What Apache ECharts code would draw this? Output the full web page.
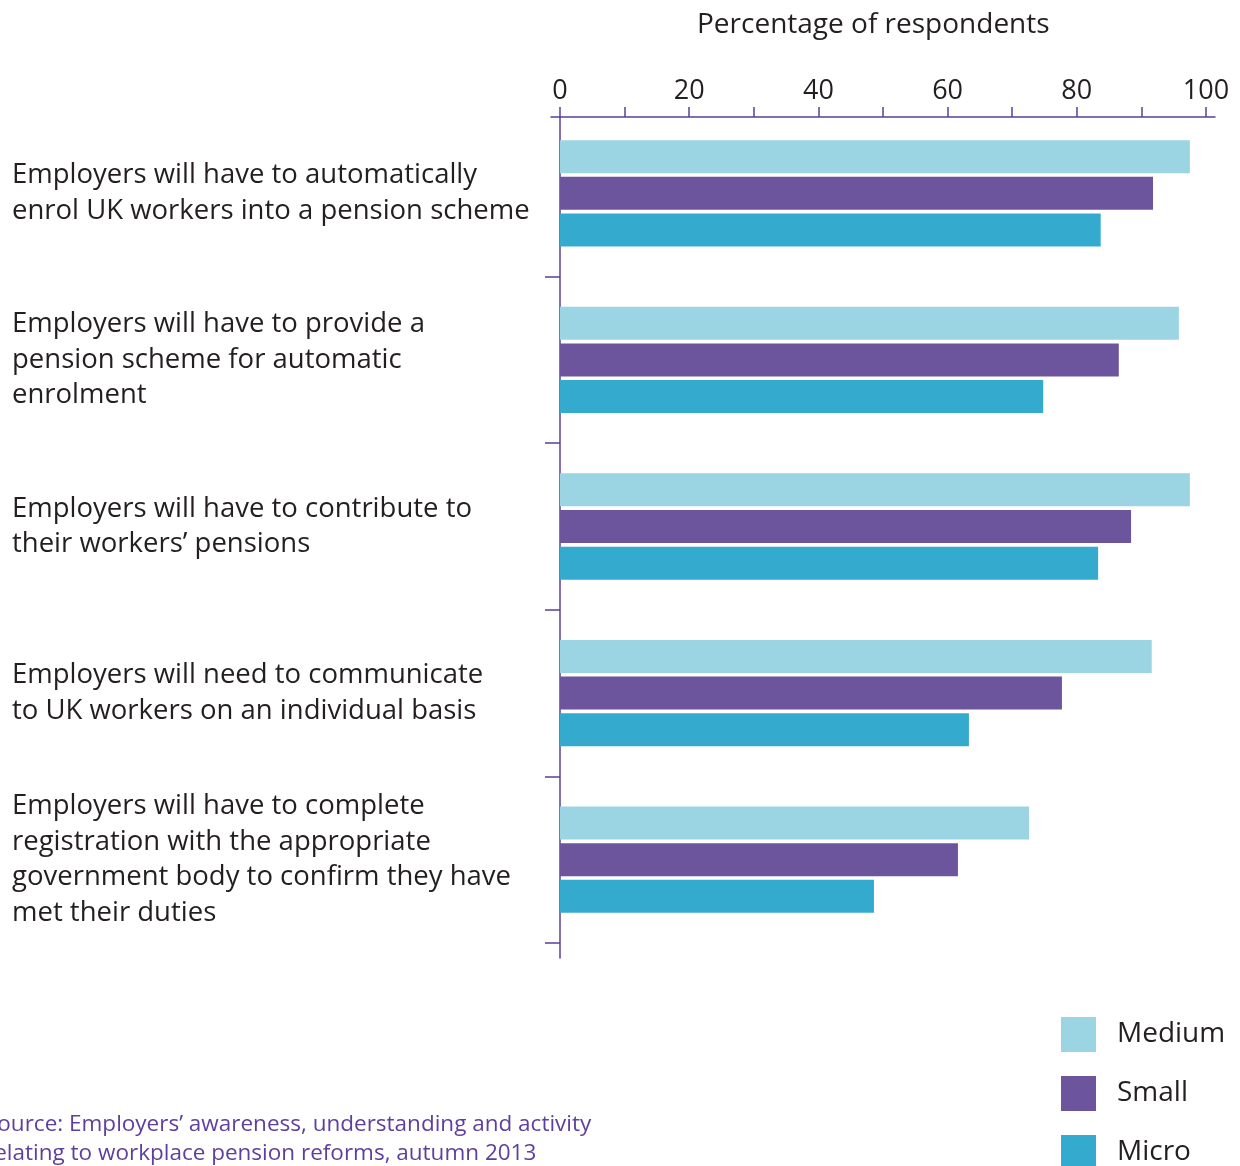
<!DOCTYPE html>
<html>
<head>
<meta charset="utf-8">
<script src="https://cdn.jsdelivr.net/npm/echarts@6/dist/echarts.min.js"></script>
<style>
  html, body { margin: 0; padding: 0; background: #ffffff; }
  #chart { width: 1240px; height: 1166px; }
</style>
</head>
<body>
<div id="chart"></div>
<script>
// Statements about the workplace pension reforms (top to bottom)
const categories = [
  'Employers will have to automatically\nenrol UK workers into a pension scheme',
  'Employers will have to provide a\npension scheme for automatic\nenrolment',
  'Employers will have to contribute to\ntheir workers\u2019 pensions',
  'Employers will need to communicate\nto UK workers on an individual basis',
  'Employers will have to complete\nregistration with the appropriate\ngovernment body to confirm they have\nmet their duties'
];

// Percentage of respondents aware of each duty, by employer size
const medium = [97.5, 95.8, 97.5, 91.6, 72.6];
const small  = [91.8, 86.5, 88.4, 77.7, 61.6];
const micro  = [83.7, 74.8, 83.3, 63.3, 48.6];

const seriesNames = ['Medium', 'Small', 'Micro'];
const axisTicks = [0, 20, 40, 60, 80, 100];

const FONT = '"Open Sans", Lato, sans-serif';
const AXIS_COLOR = '#5b3f98';
const TEXT_COLOR = '#231f20';

const chart = echarts.init(document.getElementById('chart'), null, { renderer: 'canvas' });

chart.setOption({
  backgroundColor: '#ffffff',
  animation: false,
  color: ['#9bd4e3', '#6c559d', '#34abce'],
  title: [
    {
      text: 'Percentage of respondents',
      left: 697,
      top: 11,
      padding: 0,
      textStyle: { fontFamily: FONT, fontSize: 28, fontWeight: 'normal', color: TEXT_COLOR }
    },
    {
      text: 'Source: Employers\u2019 awareness, understanding and activity\nrelating to workplace pension reforms, autumn 2013',
      left: -15,
      top: 1110,
      padding: 0,
      textStyle: { fontFamily: FONT, fontSize: 22.5, fontWeight: 'normal', color: '#5f3f9e', lineHeight: 29 }
    }
  ],
  legend: {
    orient: 'vertical',
    left: 1061,
    top: 1017,
    height: 220,
    padding: 0,
    itemWidth: 35,
    itemHeight: 35,
    itemGap: 24,
    icon: 'rect',
    data: seriesNames,
    textStyle: { fontFamily: FONT, fontSize: 28, color: TEXT_COLOR, padding: [4, 0, 0, 16] }
  },
  grid: [
    { left: 560, width: 646, top: 110, height: 833, containLabel: false },
    // frame for the two long axis lines
    { left: 551, width: 664, top: 117, height: 841, containLabel: false }
  ],
  xAxis: [
    {
      type: 'value',
      gridIndex: 0,
      position: 'top',
      offset: -7,
      min: 0,
      max: 100,
      interval: 10,
      axisLine: { show: false },
      axisTick: { show: true, length: 10, lineStyle: { color: AXIS_COLOR, width: 1.5 } },
      axisLabel: {
        show: true,
        margin: 12,
        fontFamily: FONT,
        fontSize: 27,
        color: TEXT_COLOR,
        formatter: function (v) { return axisTicks.indexOf(v) >= 0 ? String(v) : ''; }
      },
      splitLine: { show: false }
    },
    {
      type: 'value',
      gridIndex: 1,
      position: 'top',
      min: 0,
      max: 1,
      axisLine: { show: true, onZero: false, lineStyle: { color: AXIS_COLOR, width: 1.5 } },
      axisTick: { show: false },
      axisLabel: { show: false },
      splitLine: { show: false }
    }
  ],
  yAxis: [
    {
      type: 'category',
      gridIndex: 0,
      inverse: true,
      data: categories,
      axisLine: { show: false },
      axisTick: {
        show: true,
        length: 15,
        interval: function (index) { return index !== 0; },
        lineStyle: { color: AXIS_COLOR, width: 1.5 }
      },
      axisLabel: {
        show: true,
        align: 'left',
        margin: 548,
        padding: [14, 0, 0, 0],
        fontFamily: FONT,
        fontSize: 27.5,
        lineHeight: 35.5,
        color: TEXT_COLOR
      },
      splitLine: { show: false }
    },
    {
      type: 'value',
      gridIndex: 1,
      position: 'left',
      offset: -9,
      min: 0,
      max: 1,
      axisLine: { show: true, onZero: false, lineStyle: { color: AXIS_COLOR, width: 1.5 } },
      axisTick: { show: false },
      axisLabel: { show: false },
      splitLine: { show: false }
    }
  ],
  series: [
    { name: 'Medium', type: 'bar', xAxisIndex: 0, yAxisIndex: 0, data: medium, barWidth: 33, barGap: '11%' },
    { name: 'Small',  type: 'bar', xAxisIndex: 0, yAxisIndex: 0, data: small,  barWidth: 33, barGap: '11%' },
    { name: 'Micro',  type: 'bar', xAxisIndex: 0, yAxisIndex: 0, data: micro,  barWidth: 33, barGap: '11%' }
  ]
});
</script>
</body>
</html>
